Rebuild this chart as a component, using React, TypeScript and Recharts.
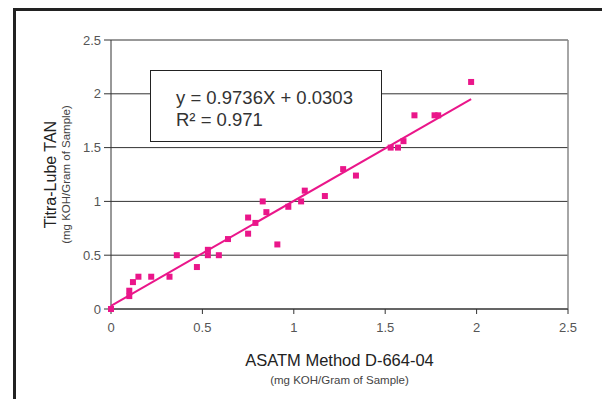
import {
  ScatterChart,
  Scatter,
  XAxis,
  YAxis,
  CartesianGrid,
  ReferenceLine,
  Label
} from "recharts";

// ASTM D-664-04 vs Titra-Lube TAN readings
const astm = [0, 0.1, 0.1, 0.12, 0.15, 0.22, 0.32, 0.36, 0.47, 0.53, 0.53, 0.59, 0.64, 0.75, 0.75, 0.79, 0.83, 0.85, 0.91, 0.97, 1.04, 1.06, 1.17, 1.27, 1.34, 1.53, 1.57, 1.6, 1.66, 1.77, 1.79, 1.97];
const titra = [0, 0.12, 0.17, 0.25, 0.3, 0.3, 0.3, 0.5, 0.39, 0.55, 0.5, 0.5, 0.65, 0.85, 0.7, 0.8, 1.0, 0.9, 0.6, 0.95, 1.0, 1.1, 1.05, 1.3, 1.24, 1.5, 1.5, 1.56, 1.8, 1.8, 1.8, 2.11];

// trend line ends
const trendX = [0, 1.97];
const trendY = [0.03, 1.95];

const ticks = [0, 0.5, 1, 1.5, 2, 2.5];

const PINK = "#ea168a";
const FONT = "'Liberation Sans', Arial, sans-serif";

const points = astm.map((x, i) => ({ x, y: titra[i] }));
const trend = trendX.map((x, i) => ({ x, y: trendY[i] }));

const Square = (props: any) => (
  <rect x={props.cx - 3} y={props.cy - 3} width={6} height={6} fill={PINK} />
);

const XTitle = ({ viewBox }: any) => {
  const cx = viewBox.x + viewBox.width / 2;
  return (
    <g fontFamily={FONT} textAnchor="middle">
      <text x={cx} y={366} fontSize={16.5} fill="#222">ASATM Method D-664-04</text>
      <text x={cx} y={384} fontSize={11.5} fill="#444">(mg KOH/Gram of Sample)</text>
    </g>
  );
};

const YTitle = ({ viewBox }: any) => {
  const cy = viewBox.y + viewBox.height / 2;
  return (
    <g fontFamily={FONT} textAnchor="middle" dominantBaseline="central">
      <text x={50} y={cy} fontSize={16} fill="#222" transform={`rotate(-90, 50, ${cy})`}>
        Titra-Lube TAN
      </text>
      <text x={66} y={cy} fontSize={11.5} fill="#444" transform={`rotate(-90, 66, ${cy})`}>
        (mg KOH/Gram of Sample)
      </text>
    </g>
  );
};

export default function App() {
  return (
    <div style={{ position: "absolute", left: 0, top: 0, width: 602, height: 399, background: "#fff" }}>
      <div
        style={{
          position: "absolute",
          left: 13,
          top: 8,
          width: 602 - 13,
          height: 399 - 8,
          borderTop: "3px solid #222",
          borderLeft: "3px solid #222",
          boxSizing: "border-box"
        }}
      />
      <ScatterChart
        width={602}
        height={399}
        margin={{ top: 40, right: 34, bottom: 60, left: 0 }}
        style={{ position: "absolute", left: 0, top: 0 }}
      >
        <CartesianGrid vertical={false} stroke="#333" horizontalValues={ticks} />
        <XAxis
          type="number"
          dataKey="x"
          domain={[0, 2.5]}
          ticks={ticks}
          height={30}
          tickSize={5}
          tickMargin={9}
          stroke="#333"
          tick={{ fill: "#555", fontSize: 13, fontFamily: FONT }}
        >
          <Label content={XTitle} />
        </XAxis>
        <YAxis
          type="number"
          dataKey="y"
          domain={[0, 2.5]}
          ticks={ticks}
          width={111}
          tickSize={7}
          tickMargin={3}
          stroke="#333"
          tick={{ fill: "#555", fontSize: 13, fontFamily: FONT }}
        >
          <Label content={YTitle} />
        </YAxis>
        <ReferenceLine x={2.5} stroke="#888" strokeWidth={1.5} />
        <Scatter
          data={trend}
          line={{ stroke: PINK, strokeWidth: 2 }}
          shape={() => null}
          isAnimationActive={false}
        />
        <Scatter data={points} shape={Square} isAnimationActive={false} />
      </ScatterChart>
      <div
        style={{
          position: "absolute",
          left: 150,
          top: 70,
          width: 232,
          height: 72,
          border: "1px solid #222",
          background: "#fff",
          boxSizing: "border-box",
          padding: "16px 0 0 25px",
          fontFamily: FONT,
          fontSize: 18.5,
          lineHeight: "22px",
          color: "#333"
        }}
      >
        <div>y = 0.9736X + 0.0303</div>
        <div>R² = 0.971</div>
      </div>
    </div>
  );
}
